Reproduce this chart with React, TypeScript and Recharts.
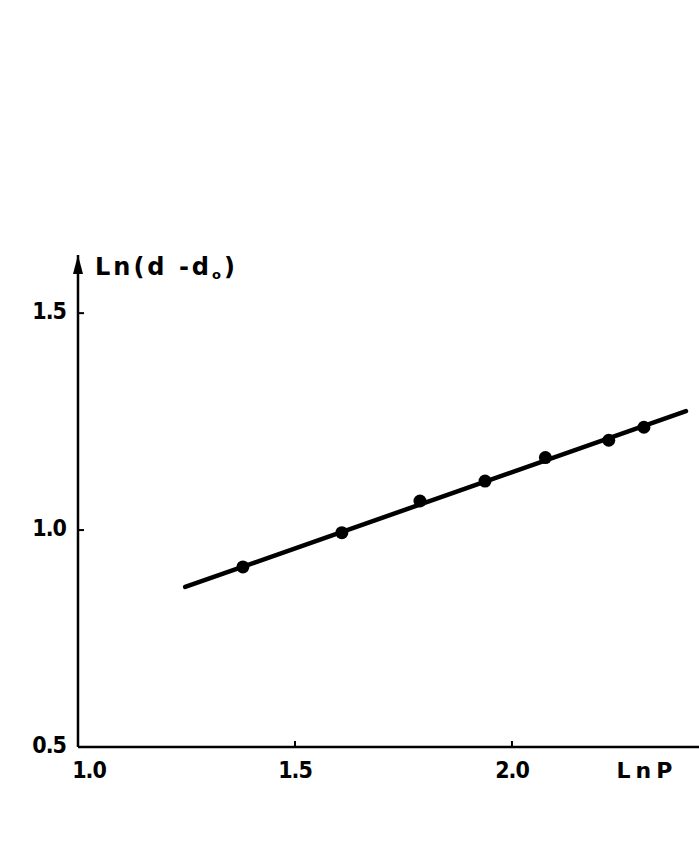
import React from 'react';
import { ComposedChart, Line, Scatter, XAxis, YAxis } from 'recharts';

// measured points: LnP vs Ln(d - d0)
const lnP = [1.38, 1.608, 1.788, 1.938, 2.077, 2.223, 2.304];
const lnDiff = [0.915, 0.994, 1.067, 1.113, 1.167, 1.207, 1.237];

// ends of the fitted straight line
const fitLnP = [1.247, 2.401];
const fitLnDiff = [0.869, 1.274];

const xTicks = [1.0, 1.5, 2.0];
const yTicks = [0.5, 1.0, 1.5];

const points = lnP.map((x, i) => ({ x, y: lnDiff[i] }));
const fit = fitLnP.map((x, i) => ({ x, y: fitLnDiff[i] }));

const FONT = '"Liberation Sans Narrow", "DejaVu Sans Condensed", "DejaVu Sans", sans-serif';
const TITLE_FONT = '"DejaVu Sans", sans-serif';

function YTick({ x, y, payload }: any) {
  return (
    <text x={x} y={y} dy={6} textAnchor="end" fontFamily={FONT} fontSize={23} fontWeight="bold" letterSpacing={-1} fill="#000">
      {Number(payload.value).toFixed(1)}
    </text>
  );
}

function XTick({ x, y, payload }: any) {
  // the first label sits just right of the vertical axis
  const dx = payload.value === xTicks[0] ? 11 : 0;
  return (
    <text x={x + dx} y={y} dy={25} textAnchor="middle" fontFamily={FONT} fontSize={23} fontWeight="bold" letterSpacing={-1} fill="#000">
      {Number(payload.value).toFixed(1)}
    </text>
  );
}

function YTitle({ viewBox }: any) {
  const ax = viewBox.x + viewBox.width;
  const top = viewBox.y;
  return (
    <g>
      <polygon points={`${ax},${top} ${ax - 5},${top + 19} ${ax + 5},${top + 19}`} fill="#000" />
      <text x={ax + 17} y={top + 20} fontFamily={TITLE_FONT} fontSize={24} fontWeight="bold" letterSpacing={3} fill="#000">
        Ln(d -d<tspan fontSize={13} dy={4}>o</tspan><tspan dy={-4}>)</tspan>
      </text>
    </g>
  );
}

function XTitle({ viewBox }: any) {
  return (
    <text x={viewBox.x + viewBox.width - 52} y={viewBox.y + 31} textAnchor="middle" fontFamily={TITLE_FONT} fontSize={22} fontWeight="bold" letterSpacing={5} fill="#000">
      LnP
    </text>
  );
}

export default function App() {
  return (
    <div style={{ position: 'absolute', left: 0, top: 0, background: '#fff' }}>
      <ComposedChart width={699} height={844} margin={{ top: 255, right: 0, bottom: 57, left: 0 }}>
        <XAxis
          type="number"
          dataKey="x"
          domain={[1.0, 2.431]}
          ticks={xTicks}
          allowDataOverflow
          height={40}
          axisLine={{ stroke: '#000', strokeWidth: 2.5 }}
          tickLine={{ stroke: '#000', strokeWidth: 2 }}
          tickSize={-6}
          tickMargin={12}
          tick={<XTick />}
          label={<XTitle />}
        />
        <YAxis
          type="number"
          dataKey="y"
          domain={[0.5, 1.634]}
          ticks={yTicks}
          allowDataOverflow
          width={78}
          axisLine={{ stroke: '#000', strokeWidth: 2.5 }}
          tickLine={{ stroke: '#000', strokeWidth: 2 }}
          tickSize={-6}
          tickMargin={18}
          tick={<YTick />}
          label={<YTitle />}
        />
        <Line
          data={fit}
          dataKey="y"
          type="linear"
          stroke="#000"
          strokeWidth={4.5}
          strokeLinecap="round"
          dot={false}
          isAnimationActive={false}
        />
        <Scatter
          data={points}
          dataKey="y"
          fill="#000"
          shape={(p: any) => <circle cx={p.cx} cy={p.cy} r={6.5} fill="#000" />}
          isAnimationActive={false}
        />
      </ComposedChart>
    </div>
  );
}
